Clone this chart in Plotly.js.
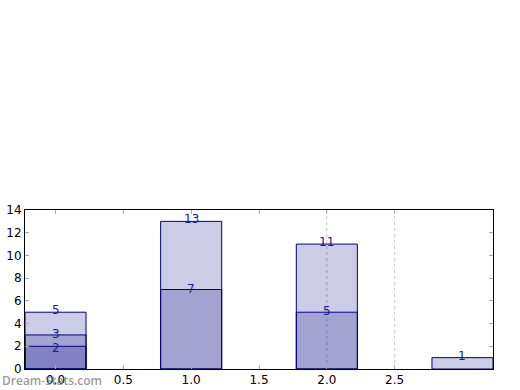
<!DOCTYPE html>
<html>
<head>
<meta charset="utf-8">
<script src="https://cdn.plot.ly/plotly-3.0.1.min.js"></script>
<style>html,body{margin:0;padding:0;background:#fff;}#chart{width:520px;height:390px;}</style>
</head>
<body>
<div id="chart"></div>
<script>
// Data
var categories = [0, 1, 2, 3];
var layerTotals = [5, 13, 11, 1];
var layerMiddle = [3, 7, 5, null];
var layerBottom = [2, null, null, null];
var xTickVals = [0, 0.5, 1, 1.5, 2, 2.5];
var xTickText = ["0.0", "0.5", "1.0", "1.5", "2.0", "2.5"];
var yTickVals = [0, 2, 4, 6, 8, 10, 12, 14];
var gridXs = [2, 2.5];

var fill = 'rgba(0,0,128,0.2)';
var edge = '#000080';

function barTrace(vals) {
  return {
    type: 'bar', x: categories, y: vals, width: 0.45,
    marker: {color: fill, line: {color: edge, width: 1}},
    hoverinfo: 'none', showlegend: false
  };
}
var traces = [barTrace(layerTotals), barTrace(layerMiddle), barTrace(layerBottom)];

var annotations = [];
var layerShifts = [2, 1, -2];
[layerTotals, layerMiddle, layerBottom].forEach(function (arr, li) {
  arr.forEach(function (v, i) {
    if (v === null) return;
    annotations.push({
      x: categories[i], y: v, xref: 'x', yref: 'y', text: String(v),
      showarrow: false, yanchor: 'middle', yshift: layerShifts[li],
      font: {family: 'DejaVu Sans', size: 12, color: '#1a1a8c'}
    });
  });
});
annotations.push({
  xref: 'paper', yref: 'paper', x: -25/468, y: -11/159, xanchor: 'left', yanchor: 'middle',
  text: 'Dream-Stats.com', showarrow: false,
  font: {family: 'Open Sans', size: 12, color: 'rgba(110,110,110,0.7)', weight: 600}
});

var shapes = gridXs.map(function (gx) {
  return {type: 'line', xref: 'x', yref: 'paper', x0: gx, x1: gx, y0: 0, y1: 1,
    line: {color: '#c4c4c4', width: 1, dash: 'dot'}, layer: 'below'};
});

var layout = {
  width: 520, height: 390,
  margin: {l: 25, r: 27, t: 210, b: 21, pad: 0},
  paper_bgcolor: '#fff', plot_bgcolor: '#fff',
  barmode: 'overlay',
  font: {family: 'DejaVu Sans', size: 12, color: '#000'},
  xaxis: {
    range: [-0.225, 3.225], tickvals: xTickVals, ticktext: xTickText,
    showgrid: false, zeroline: false, showline: true, linecolor: '#000', linewidth: 1,
    mirror: 'ticks', ticks: 'inside', ticklen: 4, tickcolor: '#aaa',
    tickfont: {family: 'DejaVu Sans', size: 12, color: '#000'}
  },
  yaxis: {
    range: [0, 14], tickvals: yTickVals,
    showgrid: false, zeroline: false, showline: true, linecolor: '#000', linewidth: 1,
    mirror: 'ticks', ticks: 'inside', ticklen: 4, tickcolor: '#aaa',
    tickfont: {family: 'DejaVu Sans', size: 12, color: '#000'}
  },
  shapes: shapes,
  annotations: annotations
};

Plotly.newPlot('chart', traces, layout, {displayModeBar: false, staticPlot: true});
</script>
</body>
</html>
